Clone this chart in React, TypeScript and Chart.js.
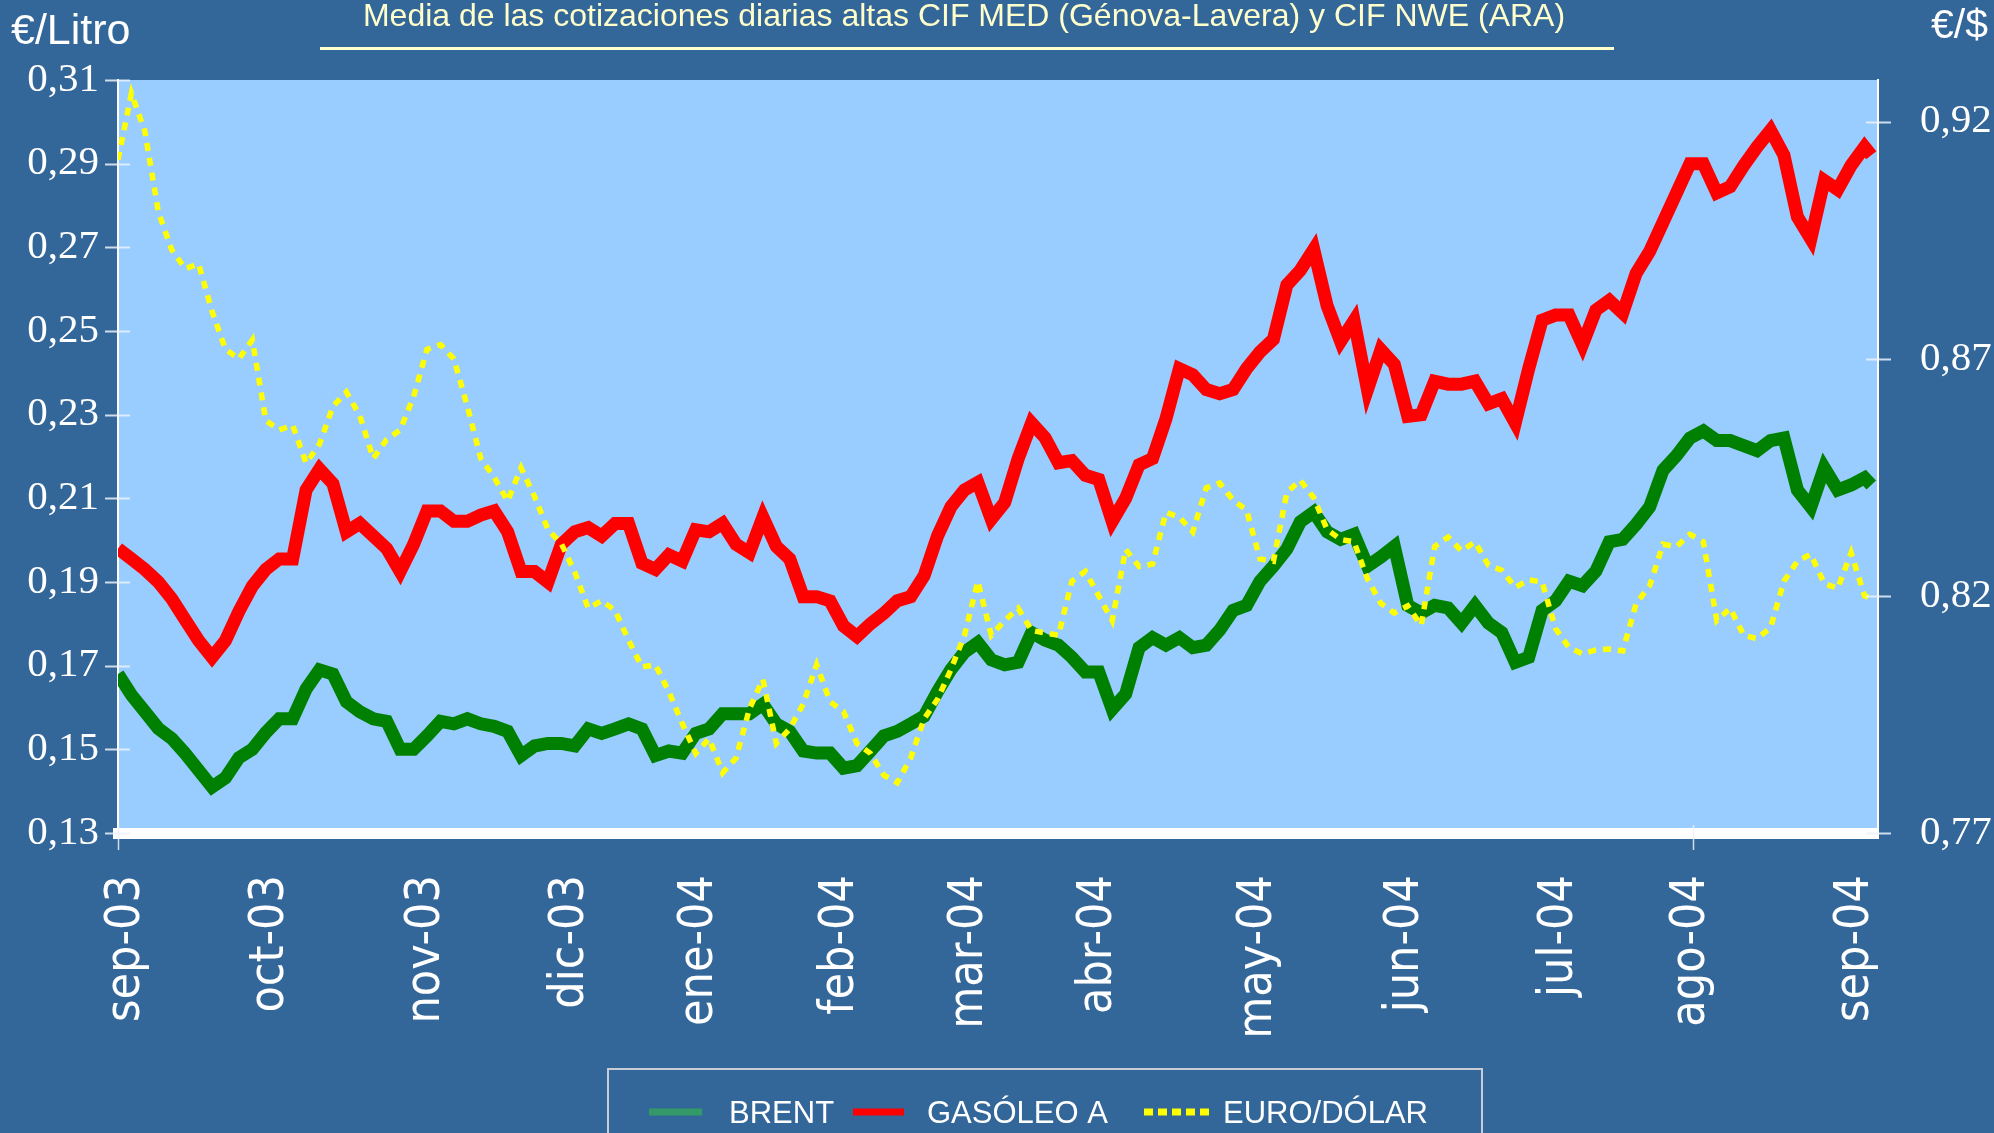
import { useEffect, useRef } from 'react';
import { Chart, registerables } from 'chart.js';

Chart.register(...registerables);

const W = 1994;
const H = 1133;

// trading-day index of each sample
const dayIndex = [
  0, 2, 4, 6, 8, 10, 12, 14, 16, 18,
  20, 22, 24, 26, 28, 30, 32, 34, 36, 38,
  40, 42, 44, 46, 48, 50, 52, 54, 56, 58,
  60, 62, 64, 66, 68, 70, 72, 74, 76, 78,
  80, 82, 84, 86, 88, 90, 92, 94, 96, 98,
  100, 102, 104, 106, 108, 110, 112, 114, 116, 118,
  120, 122, 124, 126, 128, 130, 132, 134, 136, 138,
  140, 142, 144, 146, 148, 150, 152, 154, 156, 158,
  160, 162, 164, 166, 168, 170, 172, 174, 176, 178,
  180, 182, 184, 186, 188, 190, 192, 194, 196, 198,
  200, 202, 204, 206, 208, 210, 212, 214, 216, 218,
  220, 222, 224, 226, 228, 230, 232, 234, 236, 238,
  240, 242, 244, 246, 248, 250, 252, 254, 256, 258,
  260, 261,
];

// €/Litro
const brent = [
  0.168, 0.163, 0.159, 0.155, 0.1526, 0.149, 0.145, 0.141, 0.1432, 0.148,
  0.150, 0.154, 0.1573, 0.1573, 0.1644, 0.169, 0.168, 0.1614, 0.159, 0.1573,
  0.1567, 0.150, 0.150, 0.1532, 0.1567, 0.1561, 0.1573, 0.1561, 0.1555, 0.1543,
  0.1485, 0.1508, 0.1514, 0.1514, 0.1508, 0.1549, 0.1538, 0.1549, 0.1561, 0.1549,
  0.1485, 0.1496, 0.1491, 0.1538, 0.1549, 0.1585, 0.1585, 0.1585, 0.1608, 0.1561,
  0.1543, 0.1496, 0.1491, 0.1491, 0.1455, 0.1461, 0.1496, 0.1532, 0.1543, 0.1561,
  0.1579, 0.1638, 0.1691, 0.1732, 0.1755, 0.1714, 0.1702, 0.1708, 0.1779, 0.1761,
  0.1749, 0.172, 0.1685, 0.1685, 0.1596, 0.1632, 0.1743, 0.1767, 0.1749, 0.1767,
  0.1743, 0.1749, 0.1785, 0.1832, 0.1844, 0.1902, 0.1938, 0.1979, 0.2044, 0.2067,
  0.202, 0.2002, 0.2014, 0.1938, 0.196, 0.1985, 0.1844, 0.1826, 0.1844, 0.1838,
  0.1802, 0.1844, 0.1802, 0.1779, 0.1708, 0.172, 0.1832, 0.1855, 0.1902, 0.1891,
  0.1926, 0.1996, 0.2002, 0.2038, 0.2079, 0.2167, 0.2202, 0.2244, 0.2261, 0.2238,
  0.2238, 0.2226, 0.2214, 0.2238, 0.2244, 0.212, 0.2079, 0.2173, 0.212, 0.2132,
  0.2149, 0.2132,
];

// €/Litro
const gasoleoA = [
  0.198, 0.1955, 0.193, 0.190, 0.186, 0.181, 0.176, 0.172, 0.176, 0.183,
  0.189, 0.193, 0.1955, 0.1955, 0.212, 0.217, 0.2135, 0.202, 0.204, 0.201,
  0.198, 0.1925, 0.199, 0.207, 0.207, 0.2045, 0.2045, 0.206, 0.207, 0.202,
  0.1925, 0.1925, 0.190, 0.199, 0.202, 0.203, 0.201, 0.204, 0.204, 0.1945,
  0.193, 0.1965, 0.195, 0.2025, 0.202, 0.204, 0.199, 0.197, 0.2055, 0.1985,
  0.1955, 0.1865, 0.1865, 0.1855, 0.1795, 0.177, 0.180, 0.1825, 0.1855, 0.1865,
  0.1915, 0.201, 0.208, 0.212, 0.2138, 0.205, 0.209, 0.2195, 0.228, 0.2245,
  0.2185, 0.219, 0.2155, 0.2145, 0.2045, 0.210, 0.218, 0.2195, 0.229, 0.241,
  0.2395, 0.236, 0.235, 0.236, 0.241, 0.245, 0.248, 0.261, 0.2645, 0.2695,
  0.256, 0.2475, 0.2525, 0.236, 0.2455, 0.242, 0.2296, 0.230, 0.238, 0.2373,
  0.2373, 0.238, 0.2326, 0.2338, 0.228, 0.241, 0.2526, 0.2538, 0.2538, 0.2467,
  0.255, 0.2573, 0.2543, 0.2638, 0.269, 0.276, 0.283, 0.290, 0.290, 0.283,
  0.2845, 0.2895, 0.294, 0.298, 0.292, 0.2773, 0.272, 0.286, 0.2838, 0.2896,
  0.294, 0.292,
];

// €/$
const euroDolar = [
  0.912, 0.926, 0.918, 0.901, 0.893, 0.889, 0.890, 0.880, 0.872, 0.870,
  0.874, 0.857, 0.855, 0.856, 0.848, 0.852, 0.860, 0.863, 0.858, 0.849,
  0.853, 0.855, 0.862, 0.872, 0.873, 0.870, 0.860, 0.849, 0.845, 0.840,
  0.847, 0.841, 0.834, 0.831, 0.825, 0.8174, 0.819, 0.8169, 0.8107, 0.805,
  0.8055, 0.7998, 0.7931, 0.7868, 0.7899, 0.7827, 0.7858, 0.7962, 0.8024, 0.7889,
  0.792, 0.7972, 0.8055, 0.7977, 0.7956, 0.7889, 0.7868, 0.7822, 0.7806, 0.7858,
  0.7941, 0.7982, 0.8045, 0.8117, 0.8231, 0.8117, 0.8148, 0.8174, 0.8127, 0.8122,
  0.8117, 0.8231, 0.8252, 0.82, 0.8148, 0.8298, 0.8262, 0.8267, 0.8376, 0.8366,
  0.8335, 0.8428, 0.8438, 0.8402, 0.8381, 0.8278, 0.8273, 0.8418, 0.8444, 0.8407,
  0.834, 0.8319, 0.8314, 0.8236, 0.8184, 0.8164, 0.8179, 0.8138, 0.8304, 0.8324,
  0.8295, 0.8314, 0.8265, 0.8254, 0.8218, 0.8234, 0.8229, 0.8131, 0.8091, 0.8078,
  0.8086, 0.8088, 0.8084, 0.8184, 0.8221, 0.8309, 0.8304, 0.833, 0.8314, 0.8148,
  0.8174, 0.8117, 0.811, 0.8133, 0.8231, 0.8273, 0.8288, 0.8226, 0.8216, 0.8291,
  0.82, 0.8195,
];

const monthLabels = [
  'sep-03', 'oct-03', 'nov-03', 'dic-03', 'ene-04', 'feb-04', 'mar-04',
  'abr-04', 'may-04', 'jun-04', 'jul-04', 'ago-04', 'sep-04',
];
const monthTicks = [1.3, 22.7, 46.0, 67.4, 86.5, 107.5, 126.8, 145.9, 169.8, 191.6, 214.6, 234.2, 258.7];

const leftTicks = [0.13, 0.15, 0.17, 0.19, 0.21, 0.23, 0.25, 0.27, 0.29, 0.31];
const rightTicks = [0.77, 0.82, 0.87, 0.92];

const titleText = 'Media de las cotizaciones diarias altas CIF MED (Génova-Lavera) y CIF NWE (ARA)';
const leftUnit = '€/Litro';
const rightUnit = '€/$';
const legendNames = ['BRENT', 'GASÓLEO A', 'EURO/DÓLAR'];

const PAGE_BG = '#336699';
const PLOT_BG = '#99CCFF';

const fmt = (v: number) => v.toFixed(2).replace('.', ',');

export default function App() {
  const ref = useRef<HTMLCanvasElement | null>(null);

  useEffect(() => {
    document.body.style.margin = '0';
    document.body.style.background = PAGE_BG;
    const canvas = ref.current;
    if (!canvas) return;

    const bgPlugin = {
      id: 'bgPlugin',
      beforeDraw(chart: any) {
        const { ctx, chartArea: a } = chart;
        ctx.save();
        ctx.fillStyle = PAGE_BG;
        ctx.fillRect(0, 0, chart.width, chart.height);
        ctx.fillStyle = PLOT_BG;
        ctx.fillRect(a.left, a.top, a.right - a.left, a.bottom - a.top);
        ctx.restore();
      },
    };

    const decorPlugin = {
      id: 'decorPlugin',
      afterDraw(chart: any) {
        const ctx = chart.ctx as CanvasRenderingContext2D;
        const ys = chart.scales.y;
        const y1 = chart.scales.y1;
        const xs = chart.scales.x;
        ctx.save();
        // cross tick marks on the value axes
        ctx.strokeStyle = 'rgba(235,242,250,0.85)';
        ctx.lineWidth = 2;
        leftTicks.forEach((v) => {
          const p = Math.round(ys.getPixelForValue(v)) + 0.5;
          ctx.beginPath();
          ctx.moveTo(ys.right - 13, p);
          ctx.lineTo(ys.right + 12, p);
          ctx.stroke();
        });
        rightTicks.forEach((v) => {
          const p = Math.round(y1.getPixelForValue(v)) + 0.5;
          ctx.beginPath();
          ctx.moveTo(y1.left - 12, p);
          ctx.lineTo(y1.left + 13, p);
          ctx.stroke();
        });
        // small category ticks below the axis
        ctx.lineWidth = 1.5;
        const bottom = chart.chartArea.bottom;
        [0, 234.4].forEach((t) => {
          const px = Math.round(xs.getPixelForValue(t)) + 0.5;
          ctx.beginPath();
          ctx.moveTo(px, bottom - 8);
          ctx.lineTo(px, bottom + 17);
          ctx.stroke();
        });

        // title + underline
        ctx.fillStyle = '#FFFFCC';
        ctx.font = '32px "Liberation Sans", Arial, sans-serif';
        ctx.textAlign = 'center';
        ctx.textBaseline = 'alphabetic';
        ctx.fillText(titleText, 964, 26);
        ctx.fillRect(320, 47, 1294, 3);

        // unit labels
        ctx.fillStyle = '#FFFFFF';
        ctx.font = '43px "Liberation Sans", Arial, sans-serif';
        ctx.textAlign = 'left';
        ctx.fillText(leftUnit, 11, 44);
        ctx.font = '41px "Liberation Sans", Arial, sans-serif';
        ctx.textAlign = 'right';
        ctx.fillText(rightUnit, 1988, 38);

        // legend
        ctx.strokeStyle = '#C8CCD4';
        ctx.lineWidth = 2;
        ctx.strokeRect(608, 1069, 874, 100);
        const ly = 1112;
        const sample = (x0: number, x1: number, color: string, dash: number[]) => {
          ctx.beginPath();
          ctx.strokeStyle = color;
          ctx.lineWidth = 7;
          ctx.lineCap = 'butt';
          ctx.setLineDash(dash);
          ctx.moveTo(x0, ly);
          ctx.lineTo(x1, ly);
          ctx.stroke();
          ctx.setLineDash([]);
        };
        sample(649, 702, '#339966', []);
        sample(853, 904, '#FF0000', []);
        sample(1144, 1213, '#FFFF00', [9, 5]);
        ctx.fillStyle = '#FFFFFF';
        ctx.font = '31px "Liberation Sans", Arial, sans-serif';
        ctx.textAlign = 'left';
        ctx.textBaseline = 'alphabetic';
        ctx.fillText(legendNames[0], 729, 1123);
        ctx.fillText(legendNames[1], 927, 1123);
        ctx.fillText(legendNames[2], 1223, 1123);
        ctx.restore();
      },
    };

    const toPoints = (vals: number[]) => vals.map((v, i) => ({ x: dayIndex[i], y: v }));

    const chart = new Chart(canvas, {
      type: 'line',
      data: {
        datasets: [
          {
            label: legendNames[2],
            data: toPoints(euroDolar),
            yAxisID: 'y1',
            borderColor: '#FFFF00',
            borderWidth: 5.5,
            borderDash: [8, 7],
            pointRadius: 0,
            tension: 0,
            order: 0,
          },
          {
            label: legendNames[1],
            data: toPoints(gasoleoA),
            yAxisID: 'y',
            borderColor: '#FF0000',
            borderWidth: 13,
            pointRadius: 0,
            tension: 0,
            borderJoinStyle: 'miter',
            order: 1,
          },
          {
            label: legendNames[0],
            data: toPoints(brent),
            yAxisID: 'y',
            borderColor: '#008000',
            borderWidth: 13,
            pointRadius: 0,
            tension: 0,
            borderJoinStyle: 'miter',
            order: 2,
          },
        ],
      },
      options: {
        responsive: false,
        animation: false,
        devicePixelRatio: 1,
        layout: { padding: { top: 80, left: 0, right: 0, bottom: 0 } },
        plugins: {
          legend: { display: false },
          tooltip: { enabled: false },
          title: { display: false },
        },
        scales: {
          x: {
            type: 'linear',
            min: 0,
            max: 262,
            grid: { display: false, drawTicks: false },
            border: { display: true, color: '#FFFFFF', width: 11 },
            afterBuildTicks: (s: any) => {
              s.ticks = monthTicks.map((v) => ({ value: v }));
            },
            afterFit: (s: any) => {
              s.height = 300;
            },
            ticks: {
              autoSkip: false,
              minRotation: 90,
              maxRotation: 90,
              padding: 42,
              color: '#FFFFFF',
              font: { family: '"DejaVu Sans Condensed", "DejaVu Sans", sans-serif', size: 48 },
              callback: (_v: any, i: number) => monthLabels[i],
            },
          },
          y: {
            type: 'linear',
            position: 'left',
            min: 0.13,
            max: 0.31,
            grid: { display: false, drawTicks: false },
            border: { display: true, color: '#FFFFFF', width: 2 },
            afterBuildTicks: (s: any) => {
              s.ticks = leftTicks.map((v) => ({ value: v }));
            },
            afterFit: (s: any) => {
              s.width = 118;
            },
            ticks: {
              padding: 19,
              color: '#FFFFFF',
              font: { family: '"Liberation Serif", "Times New Roman", serif', size: 41 },
              callback: (v: any) => fmt(Number(v)),
            },
          },
          y1: {
            type: 'linear',
            position: 'right',
            min: 0.77,
            max: 0.9288,
            grid: { display: false, drawTicks: false },
            border: { display: true, color: '#FFFFFF', width: 2 },
            afterBuildTicks: (s: any) => {
              s.ticks = rightTicks.map((v) => ({ value: v }));
            },
            afterFit: (s: any) => {
              s.width = 116;
            },
            ticks: {
              padding: 42,
              color: '#FFFFFF',
              font: { family: '"Liberation Serif", "Times New Roman", serif', size: 41 },
              callback: (v: any) => fmt(Number(v)),
            },
          },
        },
      } as any,
      plugins: [bgPlugin, decorPlugin],
    });

    return () => chart.destroy();
  }, []);

  return (
    <div style={{ position: 'absolute', left: 0, top: 0, width: W, height: H, background: PAGE_BG, overflow: 'hidden' }}>
      <canvas ref={ref} width={W} height={H} style={{ display: 'block', width: W, height: H }} />
    </div>
  );
}
